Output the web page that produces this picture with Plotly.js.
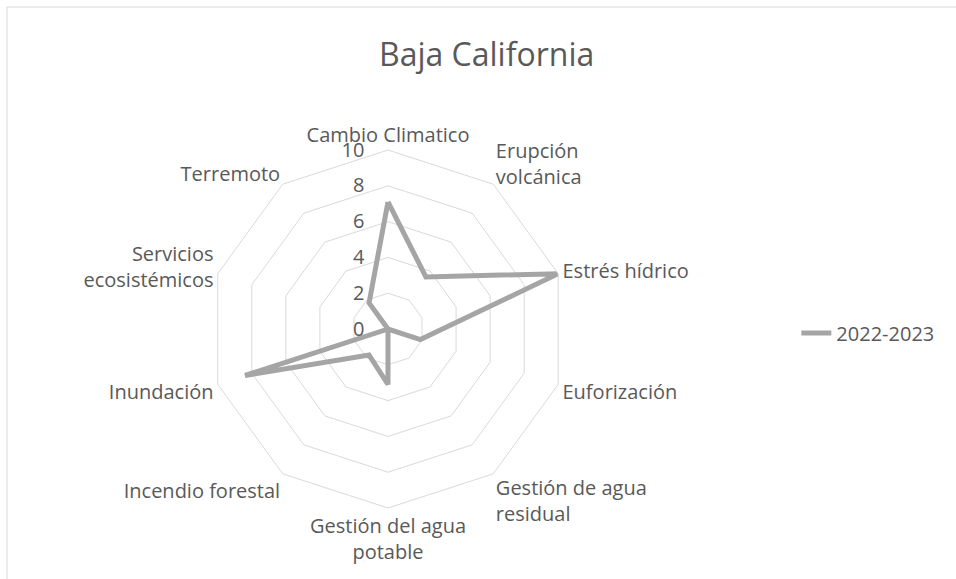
<!DOCTYPE html>
<html>
<head>
<meta charset="utf-8">
<script src="https://cdn.plot.ly/plotly-3.0.1.min.js"></script>
<style>
	html, body { margin: 0; padding: 0; background: #fff; }
	#chart { width: 956px; height: 579px; }
</style>
</head>
<body>
<div id="chart"></div>
<script>
"use strict";

// DATA
const categories = [
	"Cambio Climatico",
	"Erupción<br>volcánica",
	"Estrés hídrico",
	"Euforización",
	"Gestión de agua<br>residual",
	"Gestión del agua<br>potable",
	"Incendio forestal",
	"Inundación",
	"Servicios<br>ecosistémicos",
	"Terremoto"
];
const values2223 = [7.1, 3.6, 10, 1.9, 0, 3.1, 1.8, 8.4, 0, 1.8];
const seriesName = "2022-2023";
const radialTicks = [0, 2, 4, 6, 8, 10];

const TXT = "#595959";
const GRID = "#d9d9d9";
const FONT = "Open Sans, Liberation Sans, sans-serif";

// close the polygon
const theta = categories.concat([categories[0]]);
const r = values2223.concat([values2223[0]]);

const trace = {
	type: 'scatterpolar',
	name: seriesName,
	r: r,
	theta: theta,
	mode: 'lines',
	line: {color: '#a5a5a5', width: 5},
	showlegend: true
};

const layout = {
	width: 956, height: 579,
	margin: {l: 0, r: 0, t: 0, b: 0},
	paper_bgcolor: '#fff',
	font: {family: FONT, color: TXT, size: 20},
	title: {
		text: "Baja California",
		font: {family: FONT, size: 32, color: TXT},
		x: 0.509, xanchor: 'center',
		y: 0.905, yanchor: 'middle'
	},
	polar: {
		domain: {x: [0.2186, 0.5931], y: [0.1226, 0.7409]},
		bgcolor: '#fff',
		gridshape: 'linear',
		angularaxis: {
			direction: 'clockwise',
			rotation: 90,
			showgrid: false,
			showline: true,
			linecolor: GRID,
			linewidth: 1,
			ticks: '',
			tickfont: {family: FONT, size: 20, color: TXT}
		},
		radialaxis: {
			range: [0, 10],
			tickvals: radialTicks,
			angle: 90,
			tickangle: 90,
			side: 'counterclockwise',
			showline: false,
			ticks: 'outside',
			ticklen: 16,
			tickcolor: 'rgba(0,0,0,0)',
			gridcolor: GRID,
			gridwidth: 1,
			tickfont: {family: FONT, size: 20, color: TXT}
		}
	},
	legend: {
		x: 0.833, xanchor: 'left',
		y: 0.425, yanchor: 'middle',
		font: {family: FONT, size: 20, color: TXT},
		bgcolor: 'rgba(0,0,0,0)'
	},
	shapes: [
		{type: 'line', xref: 'paper', yref: 'paper', x0: 7/956, x1: 1, y0: 1 - 7/579, y1: 1 - 7/579, line: {color: GRID, width: 1}},
		{type: 'line', xref: 'paper', yref: 'paper', x0: 7/956, x1: 7/956, y0: 0, y1: 1 - 7/579, line: {color: GRID, width: 1}}
	]
};

Plotly.newPlot('chart', [trace], layout, {displayModeBar: false, staticPlot: true});
</script>
</body>
</html>
